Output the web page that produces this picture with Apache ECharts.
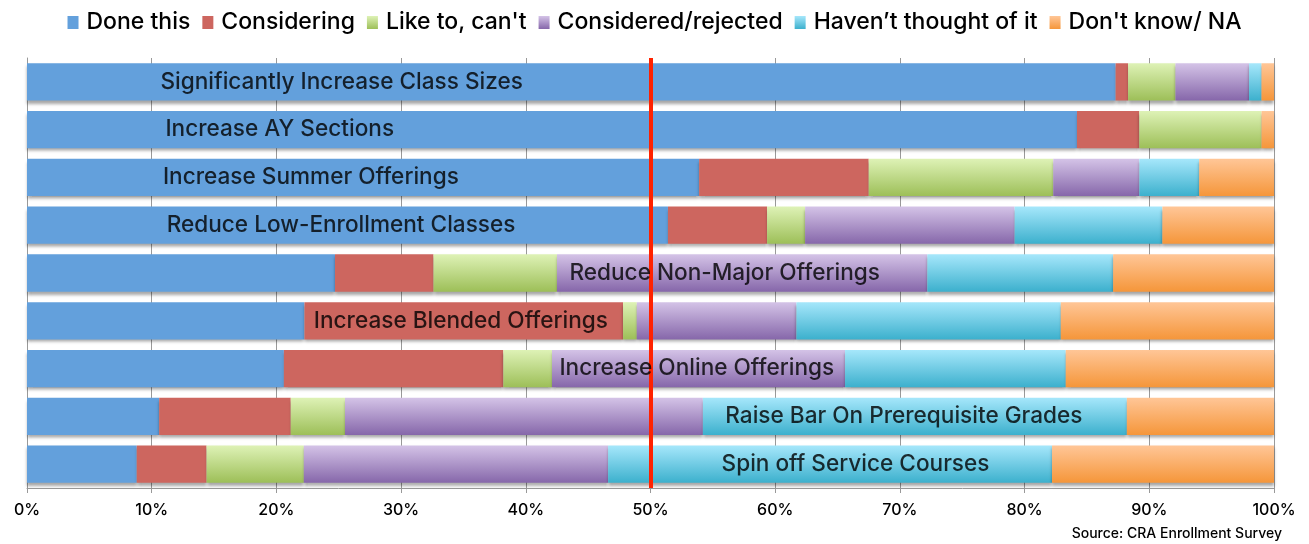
<!DOCTYPE html>
<html lang="en">

<head>
  <meta charset="UTF-8" />
  <title>Enrollment survey</title>
  <script src="https://cdn.jsdelivr.net/npm/echarts@6/dist/echarts.min.js"></script>
  <style>
    html, body { margin: 0; padding: 0; background: #fff; }
  </style>
</head>

<body>
  <div id="main" style="width: 1309px;height:544px;"></div>
  <script type="text/javascript">
    // categories, top to bottom
    const categories = [
      'Significantly Increase Class Sizes',
      'Increase AY Sections',
      'Increase Summer Offerings',
      'Reduce Low-Enrollment Classes',
      'Reduce Non-Major Offerings',
      'Increase Blended Offerings',
      'Increase Online Offerings',
      'Raise Bar On Prerequisite Grades',
      'Spin off Service Courses'
    ]
    // percent of responses per answer
    const doneThis = [87.3, 84.2, 53.9, 51.4, 24.7, 22.25, 20.6, 10.6, 8.8]
    const considering = [1.0, 5.0, 13.6, 7.95, 7.9, 25.55, 17.6, 10.55, 5.6]
    const likeToCant = [3.8, 9.8, 14.8, 3.05, 9.9, 1.1, 3.9, 4.35, 7.8]
    const consideredRejected = [5.9, 0, 6.9, 16.8, 29.7, 12.8, 23.5, 28.7, 24.4]
    const haventThought = [1.0, 0, 4.8, 11.85, 14.9, 21.2, 17.7, 34.0, 35.6]
    const dontKnow = [1.0, 1.0, 6.0, 8.95, 12.9, 17.1, 16.7, 11.8, 17.8]
    // where each bar's name starts (percent)
    const labelStart = [10.7, 11.1, 10.9, 11.2, 43.5, 23.0, 42.7, 56.0, 55.7]
    const xTicks = [0, 10, 20, 30, 40, 50, 60, 70, 80, 90, 100]
    const marker = 50

    const FONT = 'Inter'

    function grad(top, bottom) {
      return new echarts.graphic.LinearGradient(0, 0, 0, 1, [
        { offset: 0, color: top },
        { offset: 1, color: bottom }
      ])
    }

    function barSeries(name, data, color) {
      return {
        name: name,
        type: 'bar',
        stack: 'all',
        data: data,
        barCategoryGap: '22%',
        itemStyle: {
          color: color,
          shadowColor: 'rgba(0,0,0,0.35)',
          shadowBlur: 3,
          shadowOffsetY: 3
        },
        emphasis: { disabled: true }
      }
    }

    var myChart = echarts.init(document.getElementById('main'))

    const option = {
      animation: false,
      legend: {
        top: 6,
        left: 'center',
        itemWidth: 11,
        itemHeight: 13,
        itemGap: 12,
        icon: 'rect',
        textStyle: { fontFamily: FONT, fontSize: 23, fontWeight: 500, color: '#000', padding: [0, 0, 0, 3] },
        data: ['Done this', 'Considering', 'Like to, can\'t', 'Considered/rejected', 'Haven’t thought of it', 'Don\'t know/ NA']
      },
      grid: { left: 27, right: 35, top: 58, bottom: 56, outerBoundsMode: 'none' },
      xAxis: {
        type: 'value',
        min: xTicks[0],
        max: xTicks[xTicks.length - 1],
        interval: 10,
        axisLine: { show: true, lineStyle: { color: '#999', width: 1 } },
        axisTick: { show: true, length: 5, lineStyle: { color: '#999' } },
        splitLine: { show: true, lineStyle: { color: '#999', width: 1 } },
        axisLabel: { formatter: '{value}%', fontFamily: FONT, fontSize: 16, fontWeight: 500, color: '#000', margin: 14 }
      },
      yAxis: {
        type: 'category',
        inverse: true,
        data: categories,
        axisLine: { show: true, lineStyle: { color: '#999' } },
        axisTick: { show: false },
        axisLabel: { show: false }
      },
      series: [
        barSeries('Done this', doneThis, '#63a0dc'),
        barSeries('Considering', considering, '#cd665f'),
        barSeries('Like to, can\'t', likeToCant, grad('#def2b6', '#9dbf58')),
        barSeries('Considered/rejected', consideredRejected, grad('#d4c3e7', '#8667aa')),
        barSeries('Haven’t thought of it', haventThought, grad('#a6e7fb', '#3cb0cd')),
        barSeries('Don\'t know/ NA', dontKnow, grad('#ffc697', '#f5963a')),
        {
          // bar names
          type: 'scatter',
          symbolSize: 0,
          z: 5,
          silent: true,
          data: labelStart.map((v, i) => [v, categories[i]]),
          label: {
            show: true,
            position: 'right',
            distance: 0,
            fontFamily: FONT,
            fontSize: 22.6,
            fontWeight: 500,
            color: '#000',
            formatter: p => categories[p.dataIndex]
          }
        },
        {
          // red 50% line
          type: 'scatter',
          data: [],
          z: 10,
          silent: true,
          markLine: {
            symbol: 'none',
            silent: true,
            label: { show: false },
            lineStyle: { color: '#ff2200', width: 4, type: 'solid' },
            data: [{ xAxis: marker }]
          }
        }
      ],
      graphic: [{
        type: 'text',
        right: 27,
        bottom: 3,
        style: { text: 'Source: CRA Enrollment Survey', fontFamily: FONT, fontSize: 14, fontWeight: 500, fill: '#000' }
      }]
    }
    myChart.setOption(option)
  </script>
</body>

</html>
